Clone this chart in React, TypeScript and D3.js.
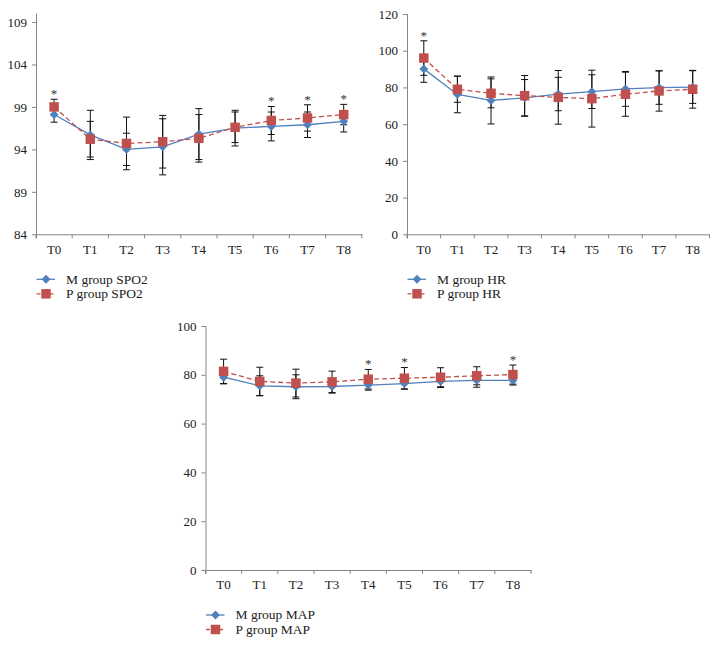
import React, { useEffect, useRef } from 'react'
import * as d3 from 'd3'

const times = ['T0', 'T1', 'T2', 'T3', 'T4', 'T5', 'T6', 'T7', 'T8']

// SPO2
const spo2M = [98.1, 95.7, 94.0, 94.3, 95.8, 96.5, 96.7, 96.9, 97.3]
const spo2MSd = [0.9, 2.9, 1.9, 3.3, 3.0, 2.1, 1.7, 1.5, 1.25]
const spo2P = [99.0, 95.2, 94.7, 94.9, 95.3, 96.6, 97.4, 97.7, 98.1]
const spo2PSd = [0.9, 2.1, 3.1, 3.1, 2.8, 1.8, 1.65, 1.55, 1.2]
const spo2Star = ['*', '', '', '', '', '', '*', '*', '*']
const spo2Ticks = [84, 89, 94, 99, 104, 109]

// HR
const hrM = [90.1, 76.2, 72.9, 74.3, 76.4, 77.7, 79.2, 79.9, 80.2]
const hrMSd = [7.3, 10.0, 12.8, 10.0, 9.1, 9.2, 9.5, 9.1, 8.9]
const hrP = [96.0, 79.0, 76.8, 75.5, 74.6, 73.9, 76.3, 78.1, 79.0]
const hrPSd = [9.4, 7.1, 7.9, 11.0, 14.6, 15.5, 12.0, 11.0, 10.3]
const hrStar = ['*', '', '', '', '', '', '', '', '']
const hrTicks = [0, 20, 40, 60, 80, 100, 120]

// MAP
const mapM = [79.0, 75.5, 75.1, 75.2, 75.8, 76.4, 77.3, 77.7, 77.7]
const mapMSd = [2.7, 4.1, 4.9, 2.7, 2.1, 2.3, 2.5, 2.8, 1.9]
const mapP = [81.4, 77.3, 76.6, 77.1, 78.2, 78.6, 79.0, 79.6, 80.1]
const mapPSd = [5.0, 5.8, 5.7, 4.4, 4.0, 4.4, 3.9, 3.7, 3.9]
const mapStar = ['', '', '', '', '*', '*', '', '', '*']
const mapTicks = [0, 20, 40, 60, 80, 100]

const blue = '#4f81bd'
const red = '#c0504d'
const axisColor = '#868686'
const font = 'Liberation Serif'

function drawPanel (svg, p) {
  const x = d3.scaleBand().domain(times).range([p.left, p.right]).paddingInner(0).paddingOuter(0)
  const y = d3.scaleLinear().domain(p.domain).range([p.bottom, p.top])
  const cx = (d, i) => x(times[i]) + x.bandwidth() / 2

  const g = svg.append('g')

  // y axis
  const ya = g.append('g')
    .attr('transform', 'translate(' + p.left + ',0)')
    .call(d3.axisLeft(y).tickValues(p.ticks).tickSize(4).tickSizeOuter(0).tickPadding(5).tickFormat(d3.format('d')))
    .attr('font-family', font)
    .attr('font-size', 13)
  ya.select('.domain').attr('stroke', axisColor).attr('d', 'M0.5,' + p.top + 'V' + (p.bottom + 4))
  ya.selectAll('.tick line').attr('stroke', axisColor)
  ya.selectAll('text').attr('fill', '#222')

  // x axis
  const xa = g.append('g')
    .attr('transform', 'translate(0,' + p.bottom + ')')
    .call(d3.axisBottom(x).tickSize(0).tickSizeOuter(0).tickPadding(10))
    .attr('font-family', font)
    .attr('font-size', 13)
  xa.select('.domain').attr('stroke', axisColor)
  xa.selectAll('text').attr('fill', '#222')
  xa.selectAll('.bound')
    .data(d3.range(times.length + 1))
    .enter().append('line')
    .attr('x1', i => p.left + i * x.step())
    .attr('x2', i => p.left + i * x.step())
    .attr('y1', 0)
    .attr('y2', 4)
    .attr('stroke', axisColor)

  const series = [
    { vals: p.m, sd: p.mSd, color: blue, dash: null, sym: d3.symbolDiamond2, size: 50, name: p.mName },
    { vals: p.pv, sd: p.pSd, color: red, dash: '5,3', sym: d3.symbolSquare, size: 90, name: p.pName }
  ]

  // error bars
  series.forEach(s => {
    const eb = g.append('g').attr('stroke', '#111').attr('stroke-width', 1)
    s.vals.forEach((v, i) => {
      const xx = cx(v, i)
      const hi = y(v + s.sd[i])
      const lo = y(v - s.sd[i])
      eb.append('line').attr('x1', xx).attr('x2', xx).attr('y1', hi).attr('y2', lo)
      eb.append('line').attr('x1', xx - 3.5).attr('x2', xx + 3.5).attr('y1', hi).attr('y2', hi)
      eb.append('line').attr('x1', xx - 3.5).attr('x2', xx + 3.5).attr('y1', lo).attr('y2', lo)
    })
  })

  const line = d3.line().x(cx).y(d => y(d))

  series.forEach(s => {
    g.append('path')
      .datum(s.vals)
      .attr('d', line)
      .attr('fill', 'none')
      .attr('stroke', s.color)
      .attr('stroke-width', 1.3)
      .attr('stroke-dasharray', s.dash)
    g.selectAll(null)
      .data(s.vals)
      .enter().append('path')
      .attr('transform', (d, i) => 'translate(' + cx(d, i) + ',' + y(d) + ')')
      .attr('d', d3.symbol(s.sym, s.size))
      .attr('fill', s.color)
  })

  // significance marks
  g.selectAll(null)
    .data(p.star)
    .enter().append('text')
    .attr('x', (d, i) => cx(d, i))
    .attr('y', (d, i) => Math.min(y(p.m[i] + p.mSd[i]), y(p.pv[i] + p.pSd[i])) - 1)
    .attr('text-anchor', 'middle')
    .attr('fill', '#333')
    .attr('font-family', font)
    .attr('font-size', 13)
    .text(d => d)

  // legend
  series.forEach((s, k) => {
    const ly = p.bottom + 45 + k * 14.5
    const lg = g.append('g')
    lg.append('line')
      .attr('x1', p.left + 0.5).attr('x2', p.left + 19)
      .attr('y1', ly).attr('y2', ly)
      .attr('stroke', s.color).attr('stroke-width', 1.3)
      .attr('stroke-dasharray', s.dash ? '4,2.5' : null)
    lg.append('path')
      .attr('transform', 'translate(' + (p.left + 10) + ',' + ly + ')')
      .attr('d', d3.symbol(s.sym, s.size))
      .attr('fill', s.color)
    lg.append('text')
      .attr('x', p.left + 30)
      .attr('y', ly)
      .attr('dy', '0.33em')
      .attr('fill', '#222')
      .attr('font-family', font)
      .attr('font-size', 13.5)
      .text(s.name)
  })
}

export default function App () {
  const ref = useRef(null)

  useEffect(() => {
    const svg = d3.select(ref.current)
    svg.selectAll('*').remove()

    drawPanel(svg, {
      left: 36, right: 361.8, top: 13.5, bottom: 234.3, domain: [84, 110], ticks: spo2Ticks,
      m: spo2M, mSd: spo2MSd, pv: spo2P, pSd: spo2PSd, star: spo2Star,
      mName: 'M group SPO2', pName: 'P group SPO2'
    })
    drawPanel(svg, {
      left: 407, right: 709.5, top: 14, bottom: 234.3, domain: [0, 120], ticks: hrTicks,
      m: hrM, mSd: hrMSd, pv: hrP, pSd: hrPSd, star: hrStar,
      mName: 'M group HR', pName: 'P group HR'
    })
    drawPanel(svg, {
      left: 205.5, right: 531, top: 326, bottom: 570, domain: [0, 100], ticks: mapTicks,
      m: mapM, mSd: mapMSd, pv: mapP, pSd: mapPSd, star: mapStar,
      mName: 'M group MAP', pName: 'P group MAP'
    })
  }, [])

  return (
    <div style={{ position: 'absolute', left: 0, top: 0 }}>
      <svg ref={ref} width={718} height={646} fontFamily={font} style={{ display: 'block', background: '#fff' }} />
    </div>
  )
}
